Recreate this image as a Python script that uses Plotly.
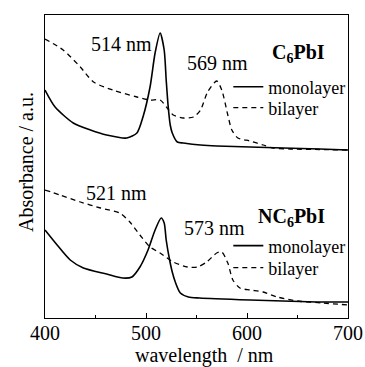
import plotly.graph_objects as go

# Wavelengths (nm) and absorbance (arbitrary units, stacked)
wl_c6_mono = [400, 410, 428, 445, 461, 481, 491, 497, 504, 509, 514, 518, 520, 522, 524, 526, 531, 537, 554, 570, 603, 636, 672, 700]
abs_c6_mono = [2.28, 2.11, 1.95, 1.88, 1.83, 1.80, 1.85, 2.01, 2.31, 2.65, 2.85, 2.68, 2.38, 2.11, 1.93, 1.85, 1.76, 1.75, 1.73, 1.72, 1.71, 1.70, 1.69, 1.68]

wl_c6_bi = [400, 418, 435, 448, 467, 491, 504, 514, 521, 527, 537, 547, 554, 561, 570, 575, 581, 585, 591, 603, 616, 626, 643, 672, 700]
abs_c6_bi = [2.79, 2.68, 2.51, 2.36, 2.28, 2.21, 2.18, 2.18, 2.10, 2.03, 2.00, 2.01, 2.08, 2.26, 2.37, 2.28, 2.03, 1.88, 1.80, 1.77, 1.73, 1.70, 1.69, 1.685, 1.68]

wl_nc6_mono = [400, 412, 425, 438, 461, 477, 486, 494, 502, 509, 515, 518, 520, 523, 526, 529, 534, 542, 553, 603, 669, 700]
abs_nc6_mono = [0.88, 0.73, 0.58, 0.50, 0.44, 0.40, 0.41, 0.51, 0.68, 0.88, 1.00, 0.95, 0.78, 0.60, 0.46, 0.36, 0.25, 0.21, 0.20, 0.18, 0.16, 0.16]

wl_nc6_bi = [400, 415, 435, 455, 474, 484, 494, 504, 514, 527, 541, 551, 560, 570, 575, 581, 586, 593, 603, 616, 630, 650, 675, 700]
abs_nc6_bi = [1.28, 1.23, 1.16, 1.10, 1.05, 0.96, 0.83, 0.71, 0.65, 0.56, 0.51, 0.51, 0.56, 0.65, 0.66, 0.55, 0.38, 0.30, 0.28, 0.26, 0.21, 0.17, 0.15, 0.13]

series_names = ["monolayer", "bilayer"]
peak_labels = ["514 nm", "569 nm", "521 nm", "573 nm"]
peak_pos = [(476, 2.74), (571, 2.55), (471, 1.25), (568, 0.90)]
sample_labels = ["C<sub>6</sub>PbI", "NC<sub>6</sub>PbI"]
sample_pos = [(651, 2.65), (644, 1.01)]

FONT = "Liberation Serif, Times New Roman, serif"
fig = go.Figure()
solid = dict(color="black", width=1.6)
dashed = dict(color="black", width=1.3, dash="5px,4px")

fig.add_trace(go.Scatter(x=wl_c6_mono, y=abs_c6_mono, mode="lines", name=series_names[0],
                         line=dict(**solid, shape="spline", smoothing=0.7), legend="legend"))
fig.add_trace(go.Scatter(x=wl_c6_bi, y=abs_c6_bi, mode="lines", name=series_names[1],
                         line=dict(**dashed, shape="spline", smoothing=0.7), legend="legend2"))
fig.add_trace(go.Scatter(x=wl_nc6_mono, y=abs_nc6_mono, mode="lines", name=series_names[0],
                         line=dict(**solid, shape="spline", smoothing=0.7), legend="legend3"))
fig.add_trace(go.Scatter(x=wl_nc6_bi, y=abs_nc6_bi, mode="lines", name=series_names[1],
                         line=dict(**dashed, shape="spline", smoothing=0.7), legend="legend4"))

annotations = []
for t, (x, y) in zip(peak_labels, peak_pos):
    annotations.append(dict(x=x, y=y, text=t, showarrow=False, font=dict(size=20, family=FONT, color="black")))
for t, (x, y) in zip(sample_labels, sample_pos):
    annotations.append(dict(x=x, y=y, text="<b>" + t + "</b>", showarrow=False,
                            font=dict(size=20, family=FONT, color="black")))
annotations.append(dict(x=0, y=0.515, xref="paper", yref="paper", xshift=-19, xanchor="center",
                        yanchor="middle", text="Absorbance / a.u.",
                        textangle=-90, showarrow=False, font=dict(size=20, family=FONT, color="black")))
annotations.append(dict(x=0.525, y=0, xref="paper", yref="paper", yshift=-37, text="wavelength\u00a0 / nm",
                        showarrow=False, xanchor="center", yanchor="middle",
                        font=dict(size=20, family=FONT, color="black")))

legend_style = dict(font=dict(size=18, family=FONT, color="black"), bgcolor="rgba(0,0,0,0)",
                    borderwidth=0, xanchor="left", yanchor="middle", itemwidth=30)

fig.update_layout(
    width=365, height=367,
    margin=dict(l=45, r=17, t=15, b=49, autoexpand=False),
    paper_bgcolor="white", plot_bgcolor="white",
    font=dict(family=FONT, size=20, color="black"),
    showlegend=True,
    legend=dict(**legend_style, x=0.605, y=0.762),
    legend2=dict(**legend_style, x=0.605, y=0.693),
    legend3=dict(**legend_style, x=0.605, y=0.238),
    legend4=dict(**legend_style, x=0.605, y=0.165),
    annotations=annotations,
    xaxis=dict(range=[400, 700], dtick=100, tick0=400, ticks="inside", ticklen=5, tickwidth=1,
               tickcolor="black", showline=True, linecolor="black", linewidth=1, mirror=True,
               showgrid=False, zeroline=False, tickfont=dict(size=20, family=FONT),
               ticklabelstandoff=-3,
               minor=dict(dtick=50, ticks="inside", ticklen=3, tickcolor="black", showgrid=False)),
    yaxis=dict(range=[0, 3.03], showticklabels=False, ticks="", showline=True, linecolor="black",
               linewidth=1, mirror=True, showgrid=False, zeroline=False),
)

fig.write_html("out.html", config={"displayModeBar": False},
               post_script="document.body.style.margin='0';document.body.style.overflow='hidden';")
